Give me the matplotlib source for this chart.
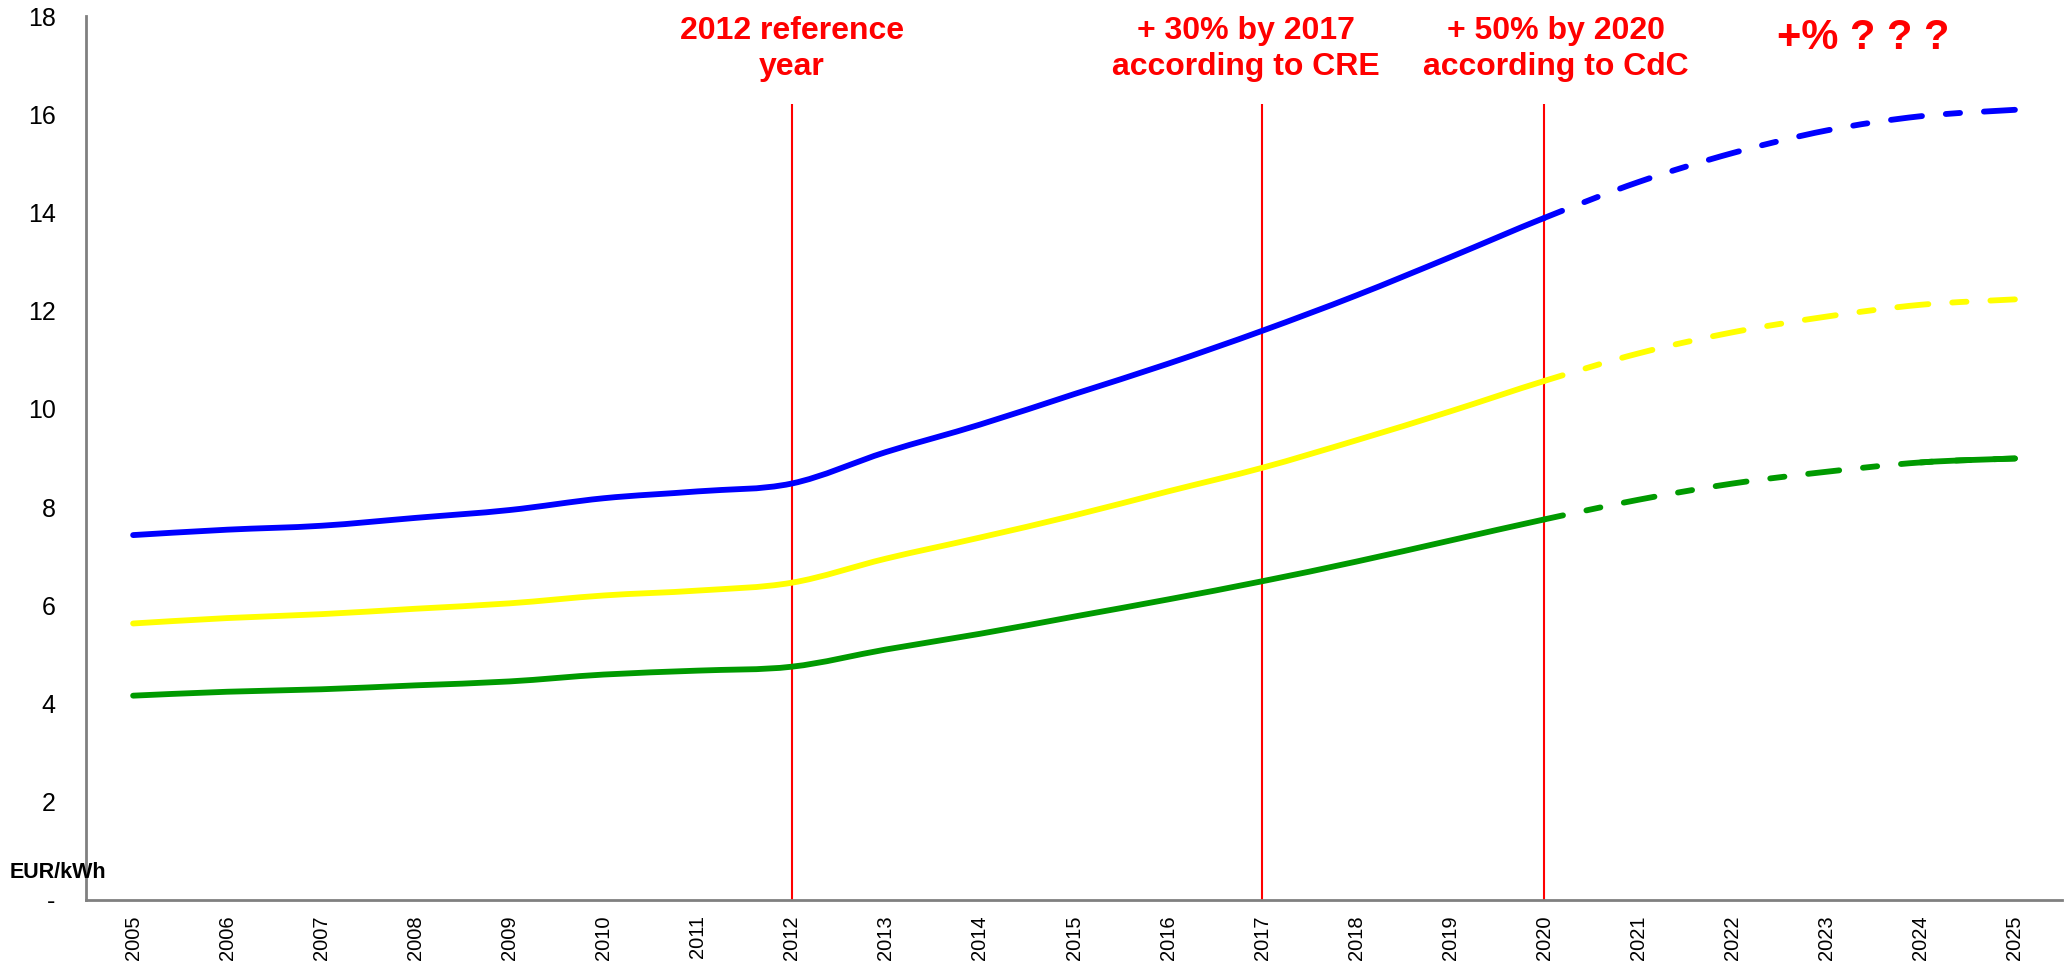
import numpy as np
import matplotlib
matplotlib.use("Agg")
import matplotlib.pyplot as plt
from matplotlib.path import Path
from matplotlib.patches import PathPatch
from matplotlib import rcParams

rcParams['font.family'] = ['Liberation Sans', 'DejaVu Sans']

years = list(range(2005, 2026))
blue = [7.43, 7.54, 7.62, 7.78, 7.94, 8.18, 8.32, 8.48, 9.12, 9.68, 10.30,
        10.92, 11.59, 12.31, 13.09, 13.89, 14.62, 15.21, 15.67, 15.96, 16.09]
yellow = [5.63, 5.74, 5.82, 5.93, 6.04, 6.20, 6.30, 6.46, 6.95, 7.38, 7.83,
          8.32, 8.80, 9.36, 9.95, 10.57, 11.13, 11.56, 11.88, 12.12, 12.23]
green = [4.16, 4.24, 4.29, 4.37, 4.45, 4.59, 4.67, 4.75, 5.10, 5.42, 5.77,
         6.12, 6.49, 6.89, 7.32, 7.75, 8.15, 8.48, 8.72, 8.91, 8.99]

# projections after this year are dashed
last_known = 2020

markers = [2012, 2017, 2020]
marker_top = 16.2
notes = ["2012 reference\nyear", "+ 30% by 2017\naccording to CRE",
         "+ 50% by 2020\naccording to CdC", "+% ? ? ?"]
note_x = [2012.0, 2016.83, 2020.12, 2023.39]


def smooth_path(x, y, i0, i1):
    # Catmull-Rom through the points, written as cubic Bezier pieces
    n = len(x)
    verts = [(x[i0], y[i0])]
    codes = [Path.MOVETO]
    for i in range(i0, i1):
        a, b = max(i - 1, 0), min(i + 2, n - 1)
        c1 = (x[i] + (x[i + 1] - x[a]) / 6.0, y[i] + (y[i + 1] - y[a]) / 6.0)
        c2 = (x[i + 1] - (x[b] - x[i]) / 6.0, y[i + 1] - (y[b] - y[i]) / 6.0)
        verts += [c1, c2, (x[i + 1], y[i + 1])]
        codes += [Path.CURVE4] * 3
    return Path(verts, codes)


fig = plt.figure(figsize=(20.69, 9.65), dpi=100)
ax = fig.add_axes([0.0416, 0.0674, 0.955, 0.916])

lw = 4.2
dash = (2.1, (5.35, 4.1, 2.45, 4.1))
split = years.index(last_known)
n = len(years)
for vals, col in [(blue, '#0000FF'), (yellow, '#FFFF00'), (green, '#009A00')]:
    solid = PathPatch(smooth_path(years, vals, 0, split), fill=False,
                      edgecolor=col, lw=lw, capstyle='round',
                      joinstyle='round', zorder=3)
    proj = PathPatch(smooth_path(years, vals, split, n - 1), fill=False,
                     edgecolor=col, lw=lw, linestyle=dash, capstyle='round',
                     joinstyle='round', zorder=3)
    ax.add_patch(solid)
    ax.add_patch(proj)

# the green projection closes with an unbroken stretch
ax.add_patch(PathPatch(smooth_path(years, green, n - 2, n - 1), fill=False,
                       edgecolor='#009A00', lw=lw, capstyle='round', zorder=3))

ax.vlines(markers, 0, marker_top, color='red', lw=1.5, zorder=2)

for txt, x in zip(notes[:3], note_x[:3]):
    ax.text(x, 18.0, txt, ha='center', va='top', color='red', fontsize=23,
            fontweight='bold', linespacing=1.25)
ax.text(note_x[3], 17.95, notes[3], ha='center', va='top', color='red',
        fontsize=30, fontweight='bold')

ax.set_xlim(2004.5, 2025.5)
ax.set_ylim(0, 18)
ax.set_xticks(years)
ax.set_xticklabels([str(y) for y in years], rotation=90, fontsize=14.5)
yt = list(range(0, 19, 2))
ax.set_yticks(yt)
ax.set_yticklabels(['-'] + [str(t) for t in yt[1:]], fontsize=18)
ax.tick_params(axis='y', length=0, pad=22)
ax.tick_params(axis='x', length=0, pad=11)

fig.text(10 / 2069, 1 - 872 / 965, 'EUR/kWh', fontsize=15.5,
         fontweight='bold', ha='left', va='center')

for s in ['top', 'right']:
    ax.spines[s].set_visible(False)
for s in ['left', 'bottom']:
    ax.spines[s].set_color('#808080')
    ax.spines[s].set_linewidth(2)

fig.savefig('out.png', dpi=100)
